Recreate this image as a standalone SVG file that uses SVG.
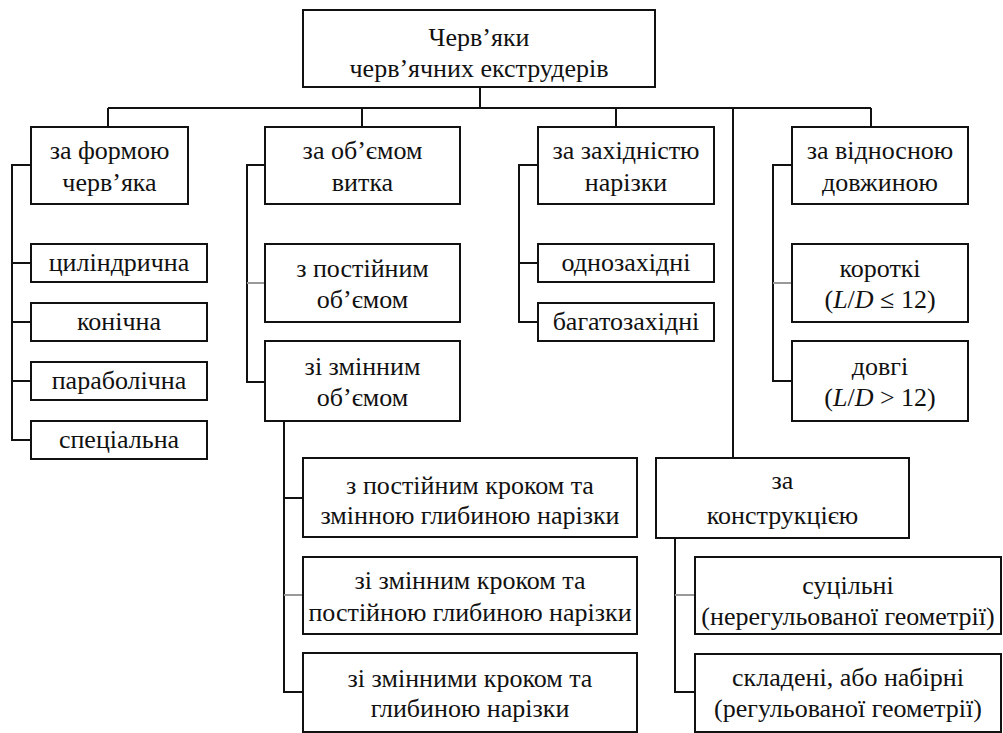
<svg xmlns="http://www.w3.org/2000/svg" width="1003" height="733" viewBox="0 0 1003 733">
<style>
.box{fill:#fff;stroke:#111;stroke-width:2}
.t{font-family:"Liberation Serif","Times New Roman",serif !important;font-size:26px;fill:#111;text-anchor:middle}
.c{fill:none;stroke:#111;stroke-width:2}
.g{fill:none;stroke:#999;stroke-width:2}
</style>
<rect x="0" y="0" width="1003" height="733" fill="#fff"/>
<g id="links">
<path class="c" d="M480 87V108M108 108H871M108 108V127M362 108V127M616 108V127M871 108V127M733 108V458"/>
<path class="c" d="M31 165H12V440H31M12 263H31M12 322H31M12 381H31"/>
<path class="c" d="M265 165H247V382H265"/>
<path class="g" d="M247 283H265"/>
<path class="c" d="M538 165H519V322H538M519 263H538"/>
<path class="c" d="M792 165H773V381H792"/>
<path class="g" d="M773 283H792"/>
<path class="c" d="M284 421V692H303M284 498H303"/>
<path class="g" d="M284 595H303"/>
<path class="c" d="M675 538V692H695"/>
<path class="g" d="M675 595H695"/>
</g>
<g id="n-chervyaky"><rect class="box" x="303" y="10" width="352" height="77"/><text class="t" x="479" y="46">Черв’яки</text><text class="t" x="479" y="77">черв’ячних екструдерів</text></g>
<g id="n-forma"><rect class="box" x="31" y="127" width="157" height="77"/><text class="t" x="109.5" y="159">за формою</text><text class="t" x="109.5" y="191">черв’яка</text></g>
<g id="n-obiem"><rect class="box" x="265" y="127" width="195" height="77"/><text class="t" x="362.5" y="159">за об’ємом</text><text class="t" x="362.5" y="191">витка</text></g>
<g id="n-zakhidnist"><rect class="box" x="538" y="127" width="176" height="77"/><text class="t" x="626" y="159">за західністю</text><text class="t" x="626" y="191">нарізки</text></g>
<g id="n-dovzhyna"><rect class="box" x="792" y="127" width="176" height="77"/><text class="t" x="880" y="159">за відносною</text><text class="t" x="880" y="191">довжиною</text></g>
<g id="n-tsylindrychna"><rect class="box" x="31" y="244" width="176" height="38"/><text class="t" x="119" y="271">циліндрична</text></g>
<g id="n-konichna"><rect class="box" x="31" y="303" width="176" height="38"/><text class="t" x="119" y="330">конічна</text></g>
<g id="n-parabolichna"><rect class="box" x="31" y="362" width="176" height="38"/><text class="t" x="119" y="389">параболічна</text></g>
<g id="n-spetsialna"><rect class="box" x="31" y="421" width="176" height="38"/><text class="t" x="119" y="448">спеціальна</text></g>
<g id="n-postiinyi"><rect class="box" x="265" y="244" width="195" height="78"/><text class="t" x="362.5" y="277">з постійним</text><text class="t" x="362.5" y="308">об’ємом</text></g>
<g id="n-zminnyi"><rect class="box" x="265" y="341" width="195" height="80"/><text class="t" x="362.5" y="375">зі змінним</text><text class="t" x="362.5" y="406">об’ємом</text></g>
<g id="n-odnozakhidni"><rect class="box" x="538" y="244" width="176" height="38"/><text class="t" x="626" y="271">однозахідні</text></g>
<g id="n-bagatozakhidni"><rect class="box" x="538" y="303" width="176" height="38"/><text class="t" x="626" y="330">багатозахідні</text></g>
<g id="n-korotki"><rect class="box" x="792" y="244" width="176" height="78"/><text class="t" x="880" y="277">короткі</text><text class="t" x="880" y="308">(<tspan font-style="italic">L</tspan>/<tspan font-style="italic">D</tspan> ≤ 12)</text></g>
<g id="n-dovgi"><rect class="box" x="792" y="341" width="176" height="80"/><text class="t" x="880" y="375">довгі</text><text class="t" x="880" y="406">(<tspan font-style="italic">L</tspan>/<tspan font-style="italic">D</tspan> &gt; 12)</text></g>
<g id="n-krok-a"><rect class="box" x="303" y="458" width="334" height="79"/><text class="t" x="470" y="494">з постійним кроком та</text><text class="t" x="470" y="524">змінною глибиною нарізки</text></g>
<g id="n-krok-b"><rect class="box" x="303" y="557" width="334" height="77"/><text class="t" x="470" y="589">зі змінним кроком та</text><text class="t" x="470" y="621">постійною глибиною нарізки</text></g>
<g id="n-krok-c"><rect class="box" x="303" y="653" width="334" height="79"/><text class="t" x="470" y="687">зі змінними кроком та</text><text class="t" x="470" y="717">глибиною нарізки</text></g>
<g id="n-konstruktsiia"><rect class="box" x="656" y="458" width="253" height="80"/><text class="t" x="782.5" y="489">за</text><text class="t" x="782.5" y="524">конструкцією</text></g>
<g id="n-sutsilni"><rect class="box" x="695" y="557" width="306" height="77"/><text class="t" x="848" y="594">суцільні</text><text class="t" x="848" y="625">(нерегульованої геометрії)</text></g>
<g id="n-skladeni"><rect class="box" x="695" y="654" width="306" height="78"/><text class="t" x="848" y="686">складені, або набірні</text><text class="t" x="848" y="717">(регульованої геометрії)</text></g>
</svg>
